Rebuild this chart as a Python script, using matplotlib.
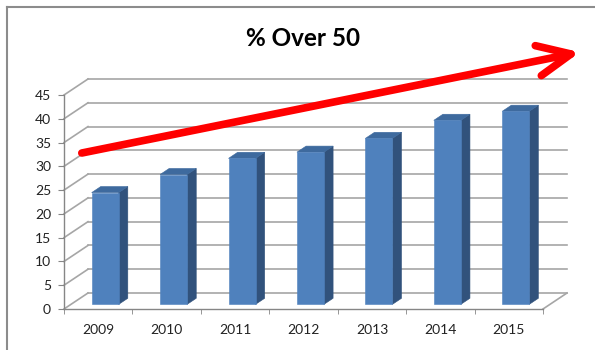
import numpy as np
import matplotlib
matplotlib.use("Agg")
import matplotlib.pyplot as plt
from matplotlib.patches import Polygon, FancyArrowPatch
from matplotlib.lines import Line2D
from matplotlib.transforms import IdentityTransform

years = ["2009", "2010", "2011", "2012", "2013", "2014", "2015"]
pct_over_50 = [23.5, 27.3, 30.7, 32.0, 34.9, 38.7, 40.6]
yticks = [0, 5, 10, 15, 20, 25, 30, 35, 40, 45]
title = "% Over 50"
# trend arrow (category index, value) at the front plane
arrow_start = (-0.24, 32.8)
arrow_end = (7.04, 54.0)

plt.rcParams["font.family"] = ["Lato", "DejaVu Sans"]

fig = plt.figure(figsize=(5.95, 3.5), dpi=100)
ax = fig.add_axes([64 / 595, 41 / 350, 479 / 595, 214 / 350])
ax.set_xlim(-0.5, len(years) - 0.5)
ax.set_ylim(0, 45)
ax.patch.set_visible(False)

grid_col = "#a6a6a6"
axis_col = "#868686"
depth_px = (24, 16)  # back wall offset in pixels


def to_disp(x, y, d):
    px, py = ax.transData.transform((x, y))
    return (px + d * depth_px[0] * fig.dpi / 100, py + d * depth_px[1] * fig.dpi / 100)


def line3d(p0, p1, **kw):
    a = to_disp(*p0)
    b = to_disp(*p1)
    ax.add_line(Line2D([a[0], b[0]], [a[1], b[1]], transform=IdentityTransform(),
                       clip_on=False, **kw))


x0, x1 = -0.5, len(years) - 0.5
# back wall grid + left wall diagonals
for t in yticks:
    line3d((x0, t, 1), (x1, t, 1), color=grid_col, lw=1.2, zorder=1)
    line3d((x0, t, 0), (x0, t, 1), color=grid_col, lw=1.2, zorder=1)
# floor right edge
line3d((x1, 0, 0), (x1, 0, 1), color=grid_col, lw=1.2, zorder=1)

# bars
d1, d2 = 0.29, 0.67
bw = 0.395
front_c = "#4f81bd"
top_c = "#3e6a9e"
side_c = "#31527c"
xs = np.arange(len(years))
for i, v in zip(xs, pct_over_50):
    xl, xr = i - bw / 2, i + bw / 2
    front = [to_disp(xl, 0, d1), to_disp(xl, v, d1), to_disp(xr, v, d1), to_disp(xr, 0, d1)]
    side = [to_disp(xr, 0, d1), to_disp(xr, v, d1), to_disp(xr, v, d2), to_disp(xr, 0, d2)]
    top = [to_disp(xl, v, d1), to_disp(xl, v, d2), to_disp(xr, v, d2), to_disp(xr, v, d1)]
    for verts, c in [(side, side_c), (top, top_c), (front, front_c)]:
        ax.add_patch(Polygon(verts, closed=True, facecolor=c, edgecolor=c, lw=0.4,
                             transform=IdentityTransform(), zorder=3, clip_on=False))

# axes styling
for s in ["top", "right"]:
    ax.spines[s].set_visible(False)
for s in ["left", "bottom"]:
    ax.spines[s].set_color(axis_col)
    ax.spines[s].set_linewidth(1.0)
ax.set_yticks(yticks)
ax.set_xticks(xs)
ax.set_xticklabels(years)
ax.set_xticks(np.arange(len(years) + 1) - 0.5, minor=True)
ax.tick_params(axis="y", length=4.3, color=axis_col, labelsize=10, pad=5, labelcolor="#222222")
ax.tick_params(axis="x", which="major", length=0, labelsize=10, pad=11, labelcolor="#222222")
ax.tick_params(axis="x", which="minor", length=3.6, color=axis_col)

# trend arrow
arr = FancyArrowPatch(arrow_start, arrow_end, transform=ax.transData,
                      arrowstyle="->,head_length=24,head_width=11",
                      mutation_scale=1, color="#ff0000", lw=5.5, capstyle="round",
                      joinstyle="round", shrinkA=0, shrinkB=0, clip_on=False, zorder=5)
ax.add_patch(arr)

fig.text(303 / 595, 1 - 38 / 350, title, ha="center", va="center",
         fontsize=17.5, fontweight="bold", color="black")

# chart frame
fig.add_artist(Line2D([6.5 / 595, 1], [1 - 6.5 / 350, 1 - 6.5 / 350], color="#8c8c8c", lw=1.5))
fig.add_artist(Line2D([6.5 / 595, 6.5 / 595], [0, 1 - 6.5 / 350], color="#8c8c8c", lw=1.5))

fig.savefig("out.png", dpi=100)
